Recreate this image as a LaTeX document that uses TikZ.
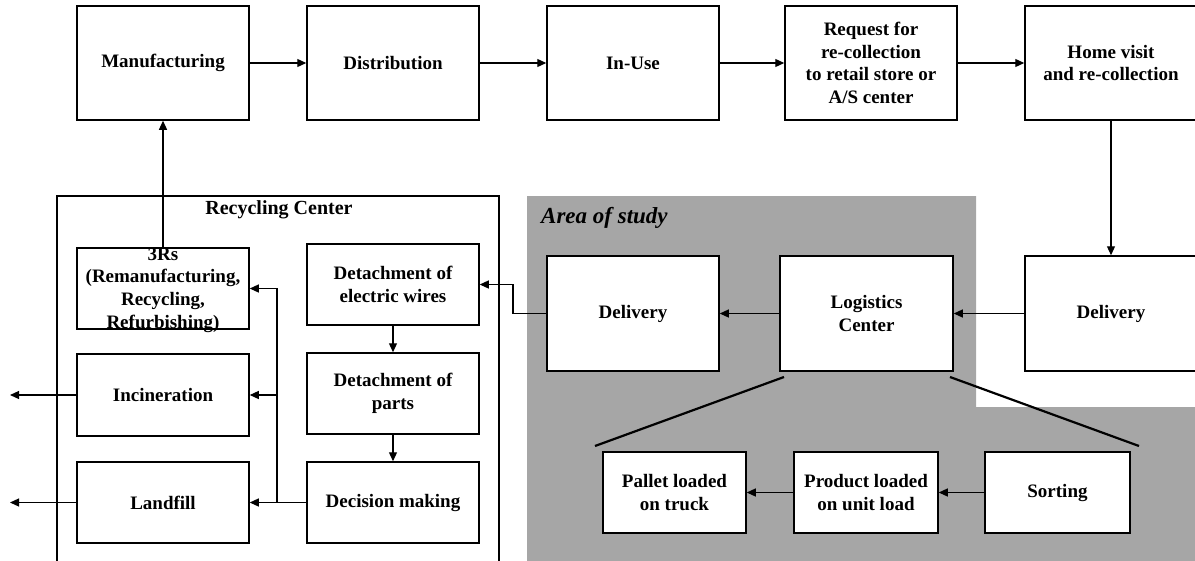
\documentclass[tikz,border=0pt]{standalone}
\usepackage{fontspec}
\setmainfont{Liberation Serif}
\usetikzlibrary{arrows.meta}
\definecolor{areagray}{RGB}{166,166,166}
\tikzset{
  box/.style={draw, line width=1.5pt, fill=white, inner sep=0pt, align=center,
    font=\fontsize{19}{22.7}\selectfont\bfseries},
  lbl/.style={inner sep=0pt, align=center, font=\fontsize{19}{22.7}\selectfont\bfseries},
  arr/.style={line width=1.2pt, -{Triangle[length=9pt,width=8pt]}},
  fanline/.style={line width=2.2pt},
}
\begin{document}
\begin{tikzpicture}[x=1pt,y=-1pt]
\useasboundingbox (0,0) rectangle (1195,560);
% area of study
\fill[areagray] (527,196) -- (976,196) -- (976,407) -- (1200,407) -- (1200,565) -- (527,565) -- cycle;
\node[anchor=west, inner sep=0pt, font=\fontsize{23}{26}\selectfont\bfseries\itshape] (aos) at (541,218) {Area of study};
% recycling center container
\draw[line width=1.5pt] (57,570) -- (57,196) -- (499,196) -- (499,570);
\node[inner sep=0pt, font=\fontsize{20}{24}\selectfont\bfseries] (rct) at (279,210) {Recycling Center};
% top row
\node[box, minimum width=172pt, minimum height=114pt] (man) at (163,63) {Manufacturing};
\node[box, minimum width=172pt, minimum height=114pt] (dist) at (393,63) {Distribution};
\node[box, minimum width=172pt, minimum height=114pt] (inuse) at (633,63) {In-Use};
\node[box, minimum width=172pt, minimum height=114pt] (req) at (871,63) {Request for\\re-collection\\to retail store or\\A/S center};
\node[box, minimum width=172pt, minimum height=114pt] (home) at (1111,63) {Home visit\\and re-collection};
% middle row
\node[box, minimum width=172pt, minimum height=115pt] (del1) at (633,313.5) {Delivery};
\node[box, minimum width=173pt, minimum height=115pt] (log) at (866.5,313.5) {Logistics\\Center};
\node[box, minimum width=172pt, minimum height=115pt] (del2) at (1111,313.5) {Delivery};
% bottom row (logistics detail)
\node[box, minimum width=143pt, minimum height=81pt] (pal) at (674.5,492.5) {Pallet loaded\\on truck};
\node[box, minimum width=144pt, minimum height=81pt] (prod) at (866,492.5) {Product loaded\\on unit load};
\node[box, minimum width=145pt, minimum height=81pt] (sort) at (1057.5,492.5) {Sorting};
% recycling center boxes
\node[box, minimum width=172pt, minimum height=81pt] (r3) at (163,288.5) {};
\node[lbl] (r3t) at (163,290) {3Rs\\(Remanufacturing,\\Recycling,\\Refurbishing)};
\node[box, minimum width=172pt, minimum height=82pt] (inc) at (163,395) {Incineration};
\node[box, minimum width=172pt, minimum height=81pt] (land) at (163,502.5) {Landfill};
\node[box, minimum width=172pt, minimum height=81pt] (wires) at (393,284.5) {Detachment of\\electric wires};
\node[box, minimum width=172pt, minimum height=81pt] (parts) at (393,393.5) {Detachment of\\parts};
\node[box, minimum width=172pt, minimum height=81pt] (dec) at (393,502.5) {Decision making};
% helper coordinates
\coordinate (k1) at (513,313.5);
\coordinate (tr) at (277,502.5);
\coordinate (o1) at (10,395);
\coordinate (o2) at (10,502.5);
\coordinate (f1) at (784,377);
\coordinate (f2) at (595,446);
\coordinate (f3) at (950,377);
\coordinate (f4) at (1139,446);
% connectors
\draw[arr] (man.east) -- (dist.west);
\draw[arr] (dist.east) -- (inuse.west);
\draw[arr] (inuse.east) -- (req.west);
\draw[arr] (req.east) -- (home.west);
\draw[arr] (home.south) -- (del2.north);
\draw[arr] (del2.west) -- (log.east);
\draw[arr] (log.west) -- (del1.east);
\draw[arr] (del1.west) -- (k1) |- (wires.east);
\draw[arr] (wires.south) -- (parts.north);
\draw[arr] (parts.south) -- (dec.north);
\draw[arr] (dec.west) -- (land.east);
\draw[arr] (tr) |- (r3.east);
\draw[arr] (inc.east -| tr) -- (inc.east);
\draw[arr] (inc.west) -- (o1);
\draw[arr] (land.west) -- (o2);
\draw[arr] (r3.north) -- (man.south);
% logistics detail
\draw[fanline] (f1) -- (f2);
\draw[fanline] (f3) -- (f4);
\draw[arr] (sort.west) -- (prod.east);
\draw[arr] (prod.west) -- (pal.east);
\end{tikzpicture}
\end{document}
